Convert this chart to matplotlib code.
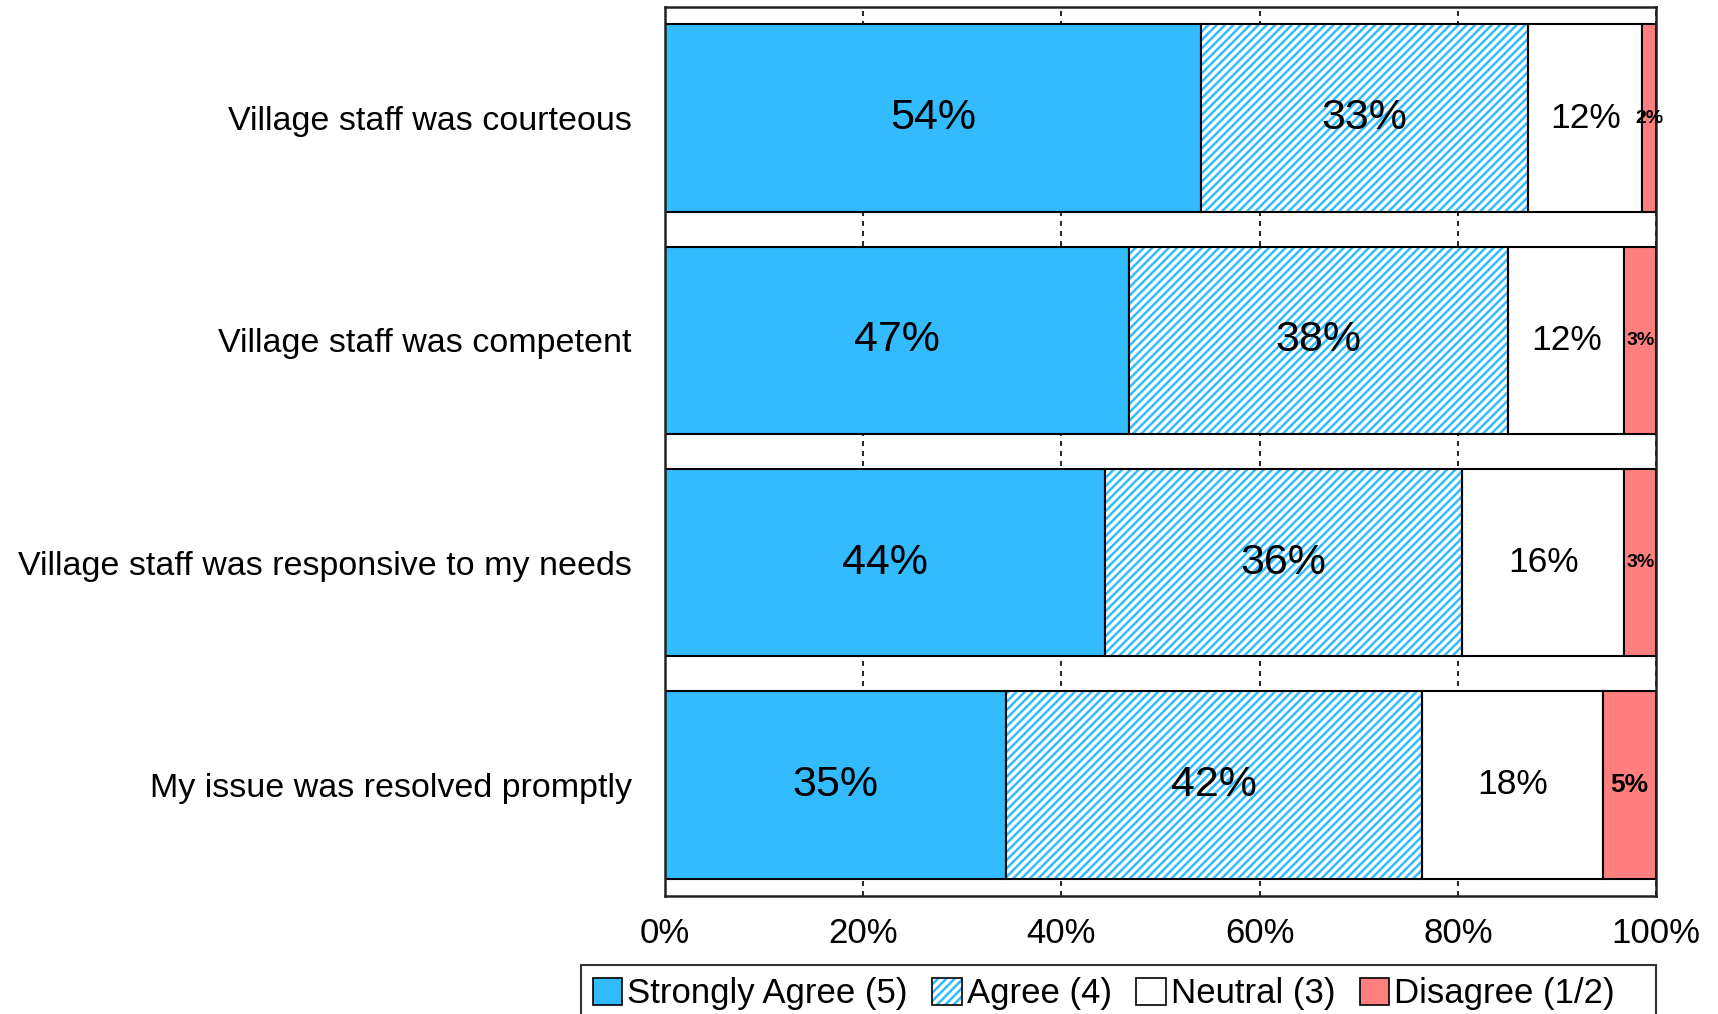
import numpy as np
import matplotlib
matplotlib.use("Agg")
import matplotlib.pyplot as plt
from matplotlib.patches import Patch
from matplotlib.legend_handler import HandlerTuple

plt.rcParams['font.family'] = ['Liberation Sans', 'DejaVu Sans']
plt.rcParams['hatch.linewidth'] = 1.8

# Survey items (top to bottom)
questions = [
    'Village staff was courteous',
    'Village staff was competent',
    'Village staff was responsive to my needs',
    'My issue was resolved promptly',
]
series_names = ['Strongly Agree (5)', 'Agree (4)', 'Neutral (3)', 'Disagree (1/2)']

# Shares in percent
strongly_agree = [54.1, 46.8, 44.4, 34.4]
agree = [33.0, 38.3, 36.0, 42.0]
neutral = [11.5, 11.7, 16.4, 18.2]
disagree = [1.4, 3.2, 3.2, 5.4]

# Labels printed inside the segments
strongly_agree_lbl = ['54%', '47%', '44%', '35%']
agree_lbl = ['33%', '38%', '36%', '42%']
neutral_lbl = ['12%', '12%', '16%', '18%']
disagree_lbl = ['2%', '3%', '3%', '5%']

blue = '#33bbff'
red = '#ff7f7f'

fig = plt.figure(figsize=(17.18, 10.14), dpi=100)
ax = fig.add_axes([0.387, 0.1164, 0.577, 0.8767])

y = np.arange(len(questions))
h = 0.843
lw = 1.5

sa = np.array(strongly_agree)
ag = np.array(agree)
ne = np.array(neutral)
di = np.array(disagree)

ax.barh(y, sa, height=h, color=blue, edgecolor='black', linewidth=lw, zorder=2)
ax.barh(y, ag, left=sa, height=h, color='white', edgecolor=blue,
        hatch='////', linewidth=0, zorder=2)
ax.barh(y, ag, left=sa, height=h, fill=False, edgecolor='black',
        linewidth=lw, zorder=3)
ax.barh(y, ne, left=sa + ag, height=h, color='white', edgecolor='black',
        linewidth=lw, zorder=2)
ax.barh(y, di, left=sa + ag + ne, height=h, color=red, edgecolor='black',
        linewidth=lw, zorder=2)

for i in range(len(questions)):
    ax.text(sa[i] / 2, y[i], strongly_agree_lbl[i], ha='center', va='center',
            fontsize=31, zorder=5)
    ax.text(sa[i] + ag[i] / 2, y[i], agree_lbl[i], ha='center', va='center',
            fontsize=31, zorder=5)
    ax.text(sa[i] + ag[i] + ne[i] / 2, y[i], neutral_lbl[i], ha='center',
            va='center', fontsize=25.5, zorder=5)
    small = di[i] < 4
    ax.text(sa[i] + ag[i] + ne[i] + di[i] / 2, y[i], disagree_lbl[i],
            ha='center', va='center', fontsize=14 if small else 19,
            fontweight='bold', zorder=5)

ax.set_xlim(0, 100)
ax.set_ylim(len(questions) - 0.5, -0.5)
ax.set_xticks(np.arange(0, 101, 20))
ax.set_xticklabels([f'{v}%' for v in range(0, 101, 20)])
ax.set_yticks(y)
ax.set_yticklabels(questions)
ax.tick_params(axis='x', length=0, labelsize=25, pad=15)
ax.tick_params(axis='y', length=0, labelsize=24.5, pad=24)

ax.set_axisbelow(True)
ax.xaxis.grid(True, color='black', linewidth=1.2, linestyle=(0, (3, 3)))
for s in ax.spines.values():
    s.set_linewidth(1.8)
    s.set_color('#222222')

handles = [
    Patch(facecolor=blue, edgecolor='black', linewidth=1.2),
    (Patch(facecolor='white', edgecolor=blue, hatch='////', linewidth=0),
     Patch(fill=False, edgecolor='black', linewidth=1.2)),
    Patch(facecolor='white', edgecolor='black', linewidth=1.2),
    Patch(facecolor=red, edgecolor='black', linewidth=1.2),
]
labels = series_names[:-1] + [series_names[-1] + '   ']
leg = ax.legend(handles, labels, loc='upper right',
                bbox_to_anchor=(1.0, -0.078), ncol=4, fontsize=25,
                handlelength=0.85, handleheight=0.85, handletextpad=0.15,
                columnspacing=0.7, borderpad=0.35, borderaxespad=0,
                frameon=True, fancybox=False,
                handler_map={tuple: HandlerTuple(ndivide=1, pad=0)})
leg.get_frame().set_edgecolor('black')
leg.get_frame().set_linewidth(1.5)

fig.savefig('out.png', dpi=100)
